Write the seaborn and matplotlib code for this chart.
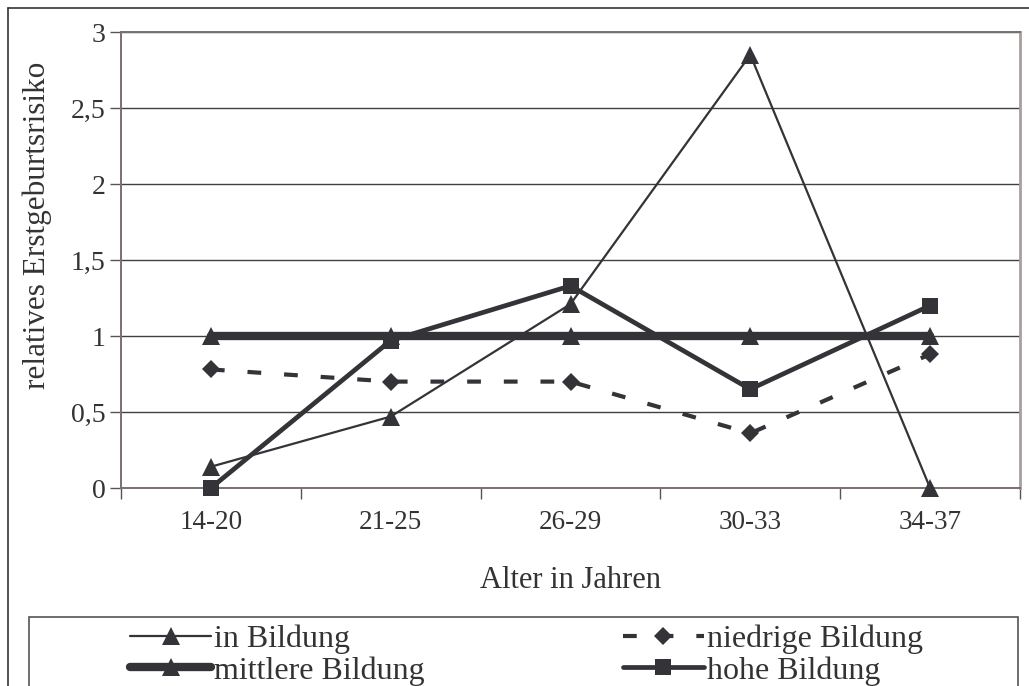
import matplotlib
matplotlib.use("Agg")
import matplotlib.pyplot as plt
import seaborn as sns
import pandas as pd
from matplotlib.lines import Line2D
from matplotlib.patches import Rectangle

# ---- data ----
categories = ["14-20", "21-25", "26-29", "30-33", "34-37"]
in_bildung = [0.14, 0.47, 1.21, 2.85, 0.0]
niedrige_bildung = [0.78, 0.70, 0.70, 0.36, 0.88]
mittlere_bildung = [1.0, 1.0, 1.0, 1.0, 1.0]
hohe_bildung = [0.0, 0.97, 1.33, 0.65, 1.20]
series_names = ["in Bildung", "niedrige Bildung", "mittlere Bildung", "hohe Bildung"]
y_ticks = [0, 0.5, 1, 1.5, 2, 2.5, 3]
y_tick_labels = ["0", "0,5", "1", "1,5", "2", "2,5", "3"]
x_label = "Alter in Jahren"
y_label = "relatives Erstgeburtsrisiko"

sns.set_theme(style="white")
plt.rcParams["font.family"] = ["Liberation Serif", "DejaVu Serif"]
TXT = "#333333"
LC = "#333338"

fig = plt.figure(figsize=(10.29, 6.86), dpi=100)
ax = fig.add_axes([121/1029, 1-488/686, (1020-121)/1029, (488-32)/686])

styles = {
    "in Bildung": dict(lw=1.6, marker="^", markersize=12.5, linestyle="-"),
    "niedrige Bildung": dict(lw=3.0, marker="D", markersize=9.5, linestyle=(0, (3.3, 5.5))),
    "mittlere Bildung": dict(lw=6.0, marker="^", markersize=12.5, linestyle="-"),
    "hohe Bildung": dict(lw=3.4, marker="s", markersize=11, linestyle="-"),
}
data = {
    "in Bildung": in_bildung,
    "niedrige Bildung": niedrige_bildung,
    "mittlere Bildung": mittlere_bildung,
    "hohe Bildung": hohe_bildung,
}
draw_order = ["mittlere Bildung", "niedrige Bildung", "hohe Bildung", "in Bildung"]
for name in draw_order:
    df = pd.DataFrame({"x": categories, "y": data[name]})
    st = styles[name]
    sns.lineplot(data=df, x="x", y="y", ax=ax, sort=False, color=LC,
                 linewidth=st["lw"], linestyle=st["linestyle"], marker=st["marker"],
                 markersize=st["markersize"], markeredgewidth=0, markerfacecolor=LC,
                 zorder=3, clip_on=False)

ax.set_xlim(-0.5, len(categories) - 0.5)
ax.set_ylim(0, 3)
ax.set_yticks(y_ticks)
ax.set_yticklabels(y_tick_labels)
ax.set_xticks(range(len(categories)))
ax.set_xticklabels(categories)
ax.set_xticks([i + 0.5 for i in range(-1, len(categories))], minor=True)
ax.tick_params(axis="x", which="major", length=0, pad=16, labelsize=19.5, colors=TXT)
ax.tick_params(axis="x", which="minor", length=8, width=1, color="#555555", direction="out", bottom=True)
ax.tick_params(axis="y", which="major", length=8, width=1, color="#555555", direction="out",
               left=True, pad=3, labelsize=20, labelcolor=TXT)
ax.yaxis.grid(True, color="#404040", linewidth=1.0, zorder=0)
ax.xaxis.grid(False)
ax.set_axisbelow(True)
for side in ["left", "bottom", "top"]:
    ax.spines[side].set_color("#7a7070")
    ax.spines[side].set_linewidth(1.4)
ax.spines["right"].set_color("#a89e9e")
ax.spines["right"].set_linewidth(2.0)
ax.set_xlabel(x_label, fontsize=22, color=TXT, labelpad=22)
ax.set_ylabel(y_label, fontsize=22.5, color=TXT)
ax.yaxis.set_label_coords(-0.077, 0.575)

# outer chart border (partially visible)
fig.add_artist(Line2D([8/1029, 8/1029], [0, 1-8/686], transform=fig.transFigure, color="#333333", lw=1.2))
fig.add_artist(Line2D([8/1029, 1.0], [1-8/686, 1-8/686], transform=fig.transFigure, color="#333333", lw=1.2))

# legend box
fig.add_artist(Rectangle((29/1029, -0.05), (1018-29)/1029, 1-617/686+0.05, transform=fig.transFigure,
                         fill=False, edgecolor="#555555", lw=1.2))

handles = {}
for name in series_names:
    st = styles[name]
    handles[name] = Line2D([], [], color=LC, lw=st["lw"], linestyle=st["linestyle"],
                           marker=st["marker"], markersize=st["markersize"], markeredgewidth=0)
order = ["in Bildung", "mittlere Bildung", "niedrige Bildung", "hohe Bildung"]
leg = fig.legend([handles[n] for n in order], order, ncol=2, loc="upper left",
                 bbox_to_anchor=(130/1029, 1-625/686), frameon=False, fontsize=23,
                 handlelength=2.55, handletextpad=0.08, columnspacing=6.2,
                 labelspacing=0.05, borderpad=0, borderaxespad=0)
for t in leg.get_texts():
    t.set_color(TXT)

fig.savefig("out.png", dpi=100)
